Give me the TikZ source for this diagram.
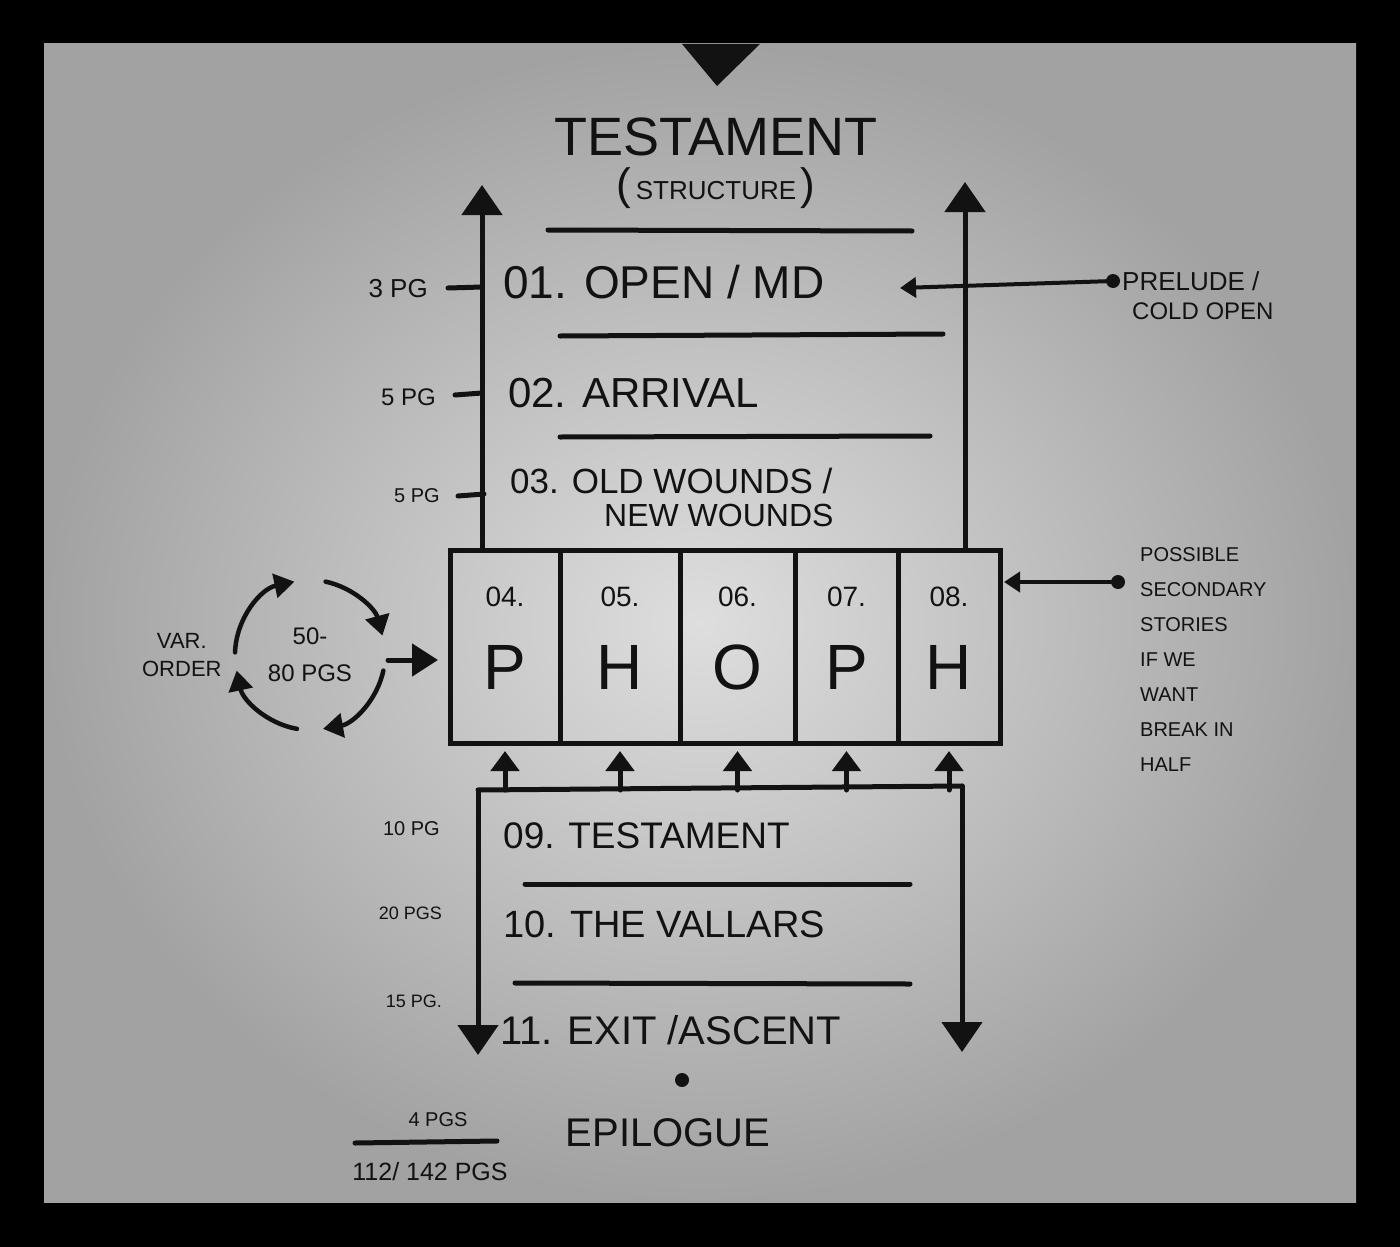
\documentclass[tikz,border=0pt]{standalone}
\usepackage{fontspec}
\setmainfont{Liberation Sans}
\usetikzlibrary{arrows.meta,positioning}

\definecolor{ink}{RGB}{18,18,18}
\definecolor{boardin}{RGB}{222,222,222}
\definecolor{boardout}{RGB}{162,162,162}
\newcommand{\tsize}[1]{\fontsize{#1}{#1}\selectfont}

\begin{document}
\begin{tikzpicture}[x=1pt,y=-1pt,>=Triangle,
  marker/.style={draw=ink,line width=5pt,line cap=round},
  bigarrow/.style={marker,-{Triangle[length=30pt,width=40pt]}},
  smallup/.style={marker,-{Triangle[length=20pt,width=28pt]}},
  sidearrow/.style={marker,line width=4pt,-{Triangle[length=16pt,width=20pt]}},
  cycarrow/.style={marker,line width=4.5pt,-{Triangle[length=20pt,width=24pt]}},
  cell/.style={draw=ink,line width=5pt,minimum height=193pt,outer sep=0pt,inner sep=0pt},
  txt/.style={text=ink,inner sep=0pt},
  row/.style={txt,anchor=west},
  dot/.style={circle,fill=ink,minimum size=14pt,inner sep=0pt}]

  \useasboundingbox (0,0) rectangle (1400,1247);

  % Board
  \fill[black] (0,0) rectangle (1400,1247);
  \shade[inner color=boardin,outer color=boardout] (44,44) rectangle (1356,1202);
  \fill[ink] (682,44) -- (760,44) -- (717,86) -- cycle;

  % Title
  \node[txt,font=\tsize{54}] (title) at (716,137) {TESTAMENT};
  \node[txt,font=\tsize{26}] (subtitle) at (716,188) {{\tsize{44}(}\,STRUCTURE\,{\tsize{44})}};

  % Middle cells
  \node[cell,minimum width=110pt] (c4) at (505,646.5) {};
  \node[cell,minimum width=120pt,right=0pt of c4] (c5) {};
  \node[cell,minimum width=115pt,right=0pt of c5] (c6) {};
  \node[cell,minimum width=103pt,right=0pt of c6] (c7) {};
  \node[cell,minimum width=102pt,right=0pt of c7] (c8) {};
  \foreach \c/\n/\l in {c4/04./P,c5/05./H,c6/06./O,c7/07./P,c8/08./H} {
    \node[txt,font=\tsize{28}] at ([yshift=-47pt]\c.north) {\n};
    \node[txt,font=\tsize{64}] at ([yshift=-117pt]\c.north) {\l};
  }

  % Top part
  \coordinate (lt) at (482,185);
  \coordinate (rt) at (965,182);
  \draw[bigarrow] (c4.north -| lt) -- (lt);
  \draw[bigarrow] (c8.north -| rt) -- (rt);
  \draw[marker] (548,230) -- (912,231);
  \draw[marker] (560,336) -- (943,334);
  \draw[marker] (560,437) -- (930,436);
  \node[row,font=\tsize{46}] (r1) at (503,282) {01. OPEN / MD};
  \node[row,font=\tsize{42}] (r2) at (508,393) {02. ARRIVAL};
  \node[row,font=\tsize{35}] (r3) at (510,481) {03. OLD WOUNDS /};
  \node[row,font=\tsize{32}] (r3b) at (604,515) {NEW WOUNDS};

  \draw[marker] (448,288) -- (482,287);
  \draw[marker] (455,395) -- (482,393);
  \draw[marker] (458,496) -- (484,494);
  \node[txt,font=\tsize{26},anchor=east] (pg1) at (428,289) {3 PG};
  \node[txt,font=\tsize{24},anchor=east] (pg2) at (436,397) {5 PG};
  \node[txt,font=\tsize{20},anchor=east] (pg3) at (440,496) {5 PG};

  \node[dot] (predot) at (1113,281) {};
  \coordinate (preend) at (900,288);
  \draw[sidearrow] (predot) -- (preend);
  \node[row,font=\tsize{26}] (prelude) at (1122,281) {PRELUDE /};
  \node[row,font=\tsize{24}] (coldopen) at (1132,311) {COLD OPEN};

  % Secondary stories
  \node[dot] (secdot) at (1118,582) {};
  \draw[sidearrow] (secdot) -- ([xshift=4pt]c8.east |- secdot);
  \node[txt,font=\fontsize{20}{35}\selectfont,align=left,anchor=north west] (secnote) at (1140,547)
    {POSSIBLE\\SECONDARY\\STORIES\\IF WE\\WANT\\BREAK IN\\HALF};

  % Cycle
  \coordinate (cyc) at (310,655);
  \node[txt,font=\fontsize{24}{37}\selectfont,align=center] (pages) at (cyc) {50-\\80 PGS};
  \node[txt,font=\fontsize{22}{28}\selectfont,align=center,left=46pt of pages] (varorder) {VAR.\\ORDER};
  \draw[cycarrow] ([shift={(182:75)}]cyc) arc[start angle=182,end angle=258,radius=75];
  \draw[cycarrow] ([shift={(282:75)}]cyc) arc[start angle=282,end angle=345,radius=75];
  \draw[cycarrow] ([shift={(12:75)}]cyc) arc[start angle=12,end angle=80,radius=75];
  \draw[cycarrow] ([shift={(100:75)}]cyc) arc[start angle=100,end angle=168,radius=75];
  \coordinate (cycout) at (388,660);
  \draw[marker,-{Triangle[length=26pt,width=32pt]}] (cycout) -- ([xshift=-12pt]c4.west |- cycout);

  % Bottom part
  \coordinate (bl) at (478,790);
  \coordinate (br) at (962,786);
  \coordinate (blend) at (478,1055);
  \coordinate (brend) at (962,1052);
  \draw[marker] (bl) -- (br);
  \draw[bigarrow] (bl) -- (blend);
  \draw[bigarrow] (br) -- (brend);
  \foreach \c in {c4,c5,c6,c7,c8}
    \draw[smallup] (\c.south |- bl) -- ([yshift=-8pt]\c.south);
  \draw[marker] (525,884) -- (910,884);
  \draw[marker] (515,983) -- (910,984);
  \node[row,font=\tsize{37}] (r9) at (503,836) {09. TESTAMENT};
  \node[row,font=\tsize{38}] (r10) at (503,924) {10. THE VALLARS};
  \node[row,font=\tsize{40}] (r11) at (500,1030) {11. EXIT /ASCENT};
  \node[txt,font=\tsize{20},anchor=east] (pg9) at (440,829) {10 PG};
  \node[txt,font=\tsize{18},anchor=east] (pg10) at (442,913) {20 PGS};
  \node[txt,font=\tsize{18},anchor=east] (pg11) at (442,1001) {15 PG.};

  % Epilogue
  \node[dot] (epidot) at (682,1080) {};
  \node[txt,font=\tsize{40}] (epilogue) at (668,1133) {EPILOGUE};
  \node[txt,font=\tsize{20}] (epipg) at (438,1120) {4 PGS};
  \draw[marker] (355,1143) -- (497,1141);
  \node[txt,font=\tsize{25}] (total) at (430,1172) {112/ 142 PGS};

\end{tikzpicture}
\end{document}
